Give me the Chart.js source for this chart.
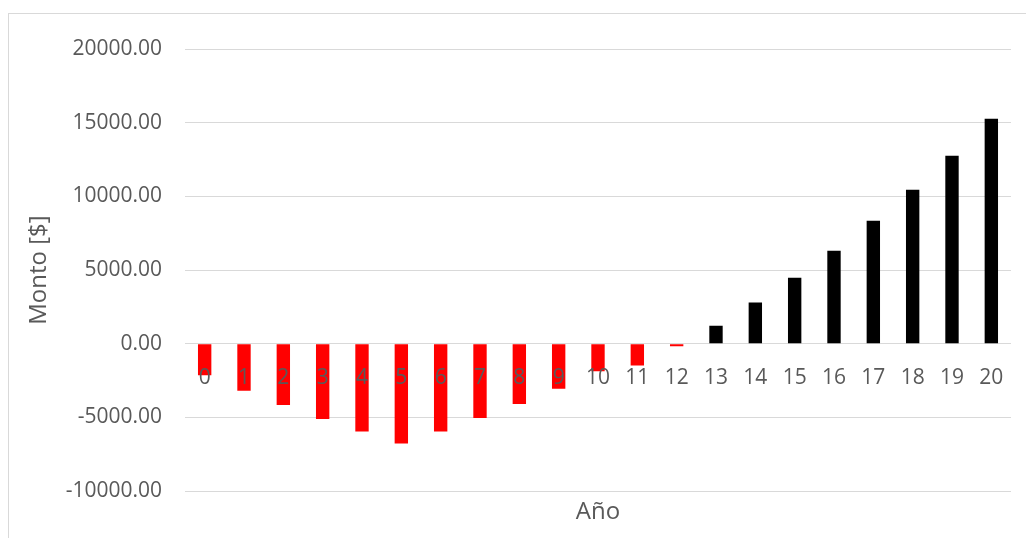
<!DOCTYPE html>
<html>
<head>
<meta charset="utf-8">
<script src="https://cdn.jsdelivr.net/npm/chart.js@4"></script>
<style>
    html, body { margin: 0; padding: 0; background: #fff; }
    #wrap { position: relative; width: 1026px; height: 538px; overflow: hidden; }
    #frame {
        position: absolute; left: 8px; top: 13px; width: 1030px; height: 540px;
        border-left: 1px solid #d9d9d9; border-top: 1px solid #d9d9d9;
    }
    canvas { position: absolute; left: 0; top: 0; }
</style>
</head>
<body>
<div id="wrap">
    <div id="frame"></div>
    <canvas id="chart" width="1026" height="538"></canvas>
</div>
<script>
// years on the x axis
var years = ['0', '1', '2', '3', '4', '5', '6', '7', '8', '9', '10',
             '11', '12', '13', '14', '15', '16', '17', '18', '19', '20'];

// amount per year
var montos = [-2140, -3180, -4150, -5100, -5950, -6770, -5950, -5040, -4090, -3050, -1870,
              -1480, -160, 1220, 2800, 4480, 6310, 8350, 10450, 12760, 15270];

var yTicks = [-10000, -5000, 0, 5000, 10000, 15000, 20000];

var gray = '#595959';
var gridColor = '#d9d9d9';
var fontName = "'Open Sans', sans-serif";

/**
 * red for losses, black for gains
 */
function barColors(values) {
    var c = [];
    for (var i = 0; i < values.length; i++) {
        c.push(values[i] < 0 ? '#ff0000' : '#000000');
    }
    return c;
}

var ctx = document.getElementById('chart').getContext('2d');
new Chart(ctx, {
    type: 'bar',
    data: {
        labels: years,
        datasets: [{
            label: 'Monto',
            data: montos,
            backgroundColor: barColors(montos),
            borderWidth: 0,
            categoryPercentage: 1,
            barPercentage: 0.34
        }]
    },
    options: {
        responsive: false,
        animation: false,
        layout: { padding: { top: 49, right: 15, bottom: 0, left: 0 } },
        plugins: {
            legend: { display: false },
            tooltip: { enabled: false }
        },
        scales: {
            x: {
                position: { y: 0 },
                grid: { display: false, drawTicks: false },
                border: { display: false },
                ticks: {
                    z: 1, // labels sit on top of the bars
                    color: gray,
                    font: { family: fontName, size: 21 },
                    padding: 22,
                    maxRotation: 0,
                    autoSkip: false
                }
            },
            x2: {
                type: 'category',
                position: 'bottom',
                grid: { display: false, drawTicks: false },
                border: { display: false },
                ticks: { display: false },
                title: {
                    display: true,
                    text: 'Año',
                    color: gray,
                    font: { family: fontName, size: 24 },
                    padding: { top: 7, bottom: 11 }
                }
            },
            y: {
                min: -10000,
                max: 20000,
                afterBuildTicks: function(scale) {
                    scale.ticks = yTicks.map(function(v) { return { value: v }; });
                },
                afterFit: function(scale) {
                    scale.width = 185;
                },
                grid: { color: gridColor, lineWidth: 1, drawTicks: false },
                border: { display: false },
                ticks: {
                    color: gray,
                    font: { family: fontName, size: 21 },
                    padding: 23,
                    callback: function(v) { return Number(v).toFixed(2); }
                },
                title: {
                    display: true,
                    text: 'Monto [$]',
                    color: gray,
                    font: { family: fontName, size: 24 },
                    padding: { top: 25, bottom: 0 }
                }
            }
        }
    }
});
</script>
</body>
</html>
